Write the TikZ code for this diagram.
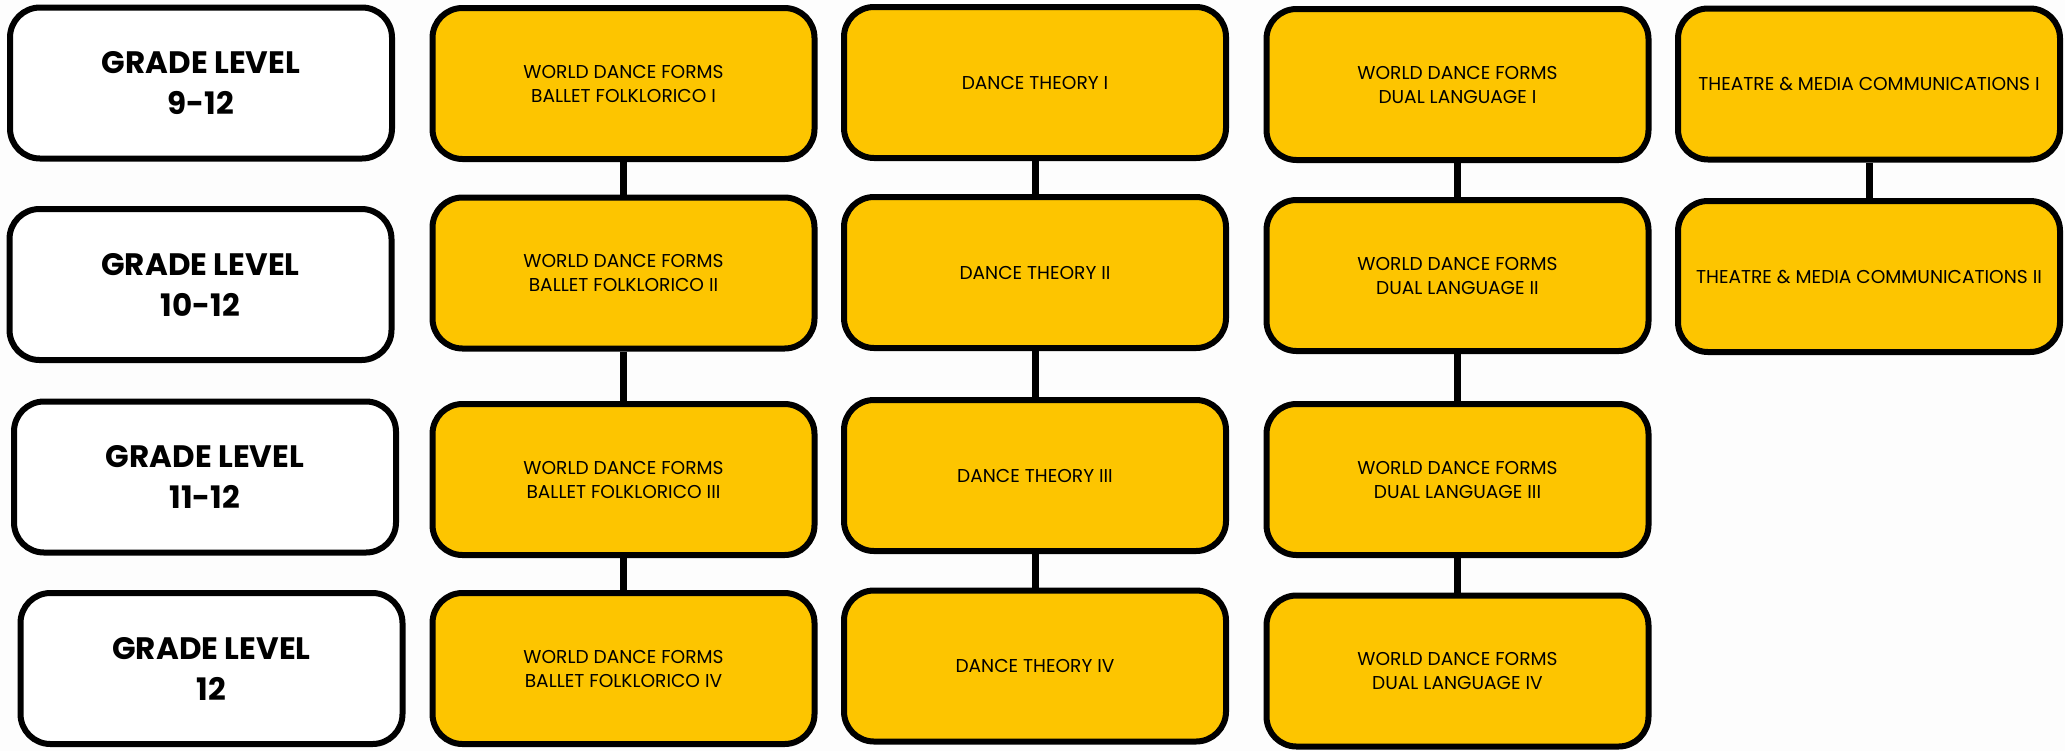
\documentclass[tikz,border=0pt]{standalone}
\usepackage{fontspec}
\setmainfont{Poppins}
\usepackage{tikz}
\definecolor{gold}{RGB}{253,197,0}
\definecolor{paper}{RGB}{253,253,253}

\begin{document}
\begin{tikzpicture}[x=0.5pt, y=-0.5pt,
        grade/.style={draw, line width=3pt, rounded corners=15pt, fill=white,
            minimum width=191pt, minimum height=75.5pt, align=center,
            font=\fontsize{15.5}{20.5}\selectfont\bfseries},
        course/.style={grade, fill=gold, font=\fontsize{9.3}{12}\selectfont},
        link/.style={line width=3.5pt}]
        \useasboundingbox[fill=paper] (0, 0) rectangle (2065, 751);

        % grade levels
        \node[grade] (g1) at (201, 83) {GRADE LEVEL\\9-12};
        \node[grade] (g2) at (200.5, 284.5) {GRADE LEVEL\\10-12};
        \node[grade] (g3) at (205, 477) {GRADE LEVEL\\11-12};
        \node[grade] (g4) at (211.5, 668.5) {GRADE LEVEL\\12};

        % ballet folklorico
        \node[course] (a1) at (623.5, 83.5) {WORLD DANCE FORMS\\BALLET FOLKLORICO I};
        \node[course] (a2) at (623.5, 273) {WORLD DANCE FORMS\\BALLET FOLKLORICO II};
        \node[course] (a3) at (623.5, 479.5) {WORLD DANCE FORMS\\BALLET FOLKLORICO III};
        \node[course] (a4) at (623.5, 668.5) {WORLD DANCE FORMS\\BALLET FOLKLORICO IV};
        \draw[link] (a1) -- (a2);
        \draw[link] (a2) -- (a3);
        \draw[link] (a3) -- (a4);

        % dance theory
        \node[course] (b1) at (1035, 82.5) {DANCE THEORY I};
        \node[course] (b2) at (1035, 272.5) {DANCE THEORY II};
        \node[course] (b3) at (1035, 475.5) {DANCE THEORY III};
        \node[course] (b4) at (1035, 666) {DANCE THEORY IV};
        \draw[link] (b1) -- (b2);
        \draw[link] (b2) -- (b3);
        \draw[link] (b3) -- (b4);

        % dual language
        \node[course] (c1) at (1457.5, 84.5) {WORLD DANCE FORMS\\DUAL LANGUAGE I};
        \node[course] (c2) at (1457.5, 275.5) {WORLD DANCE FORMS\\DUAL LANGUAGE II};
        \node[course] (c3) at (1457.5, 479.5) {WORLD DANCE FORMS\\DUAL LANGUAGE III};
        \node[course] (c4) at (1457.5, 671) {WORLD DANCE FORMS\\DUAL LANGUAGE IV};
        \draw[link] (c1) -- (c2);
        \draw[link] (c2) -- (c3);
        \draw[link] (c3) -- (c4);

        % theatre
        \node[course] (d1) at (1869, 84) {THEATRE \& MEDIA COMMUNICATIONS I};
        \node[course] (d2) at (1869, 276.5) {THEATRE \& MEDIA COMMUNICATIONS II};
        \draw[link] (d1) -- (d2);
    \end{tikzpicture}
\end{document}
